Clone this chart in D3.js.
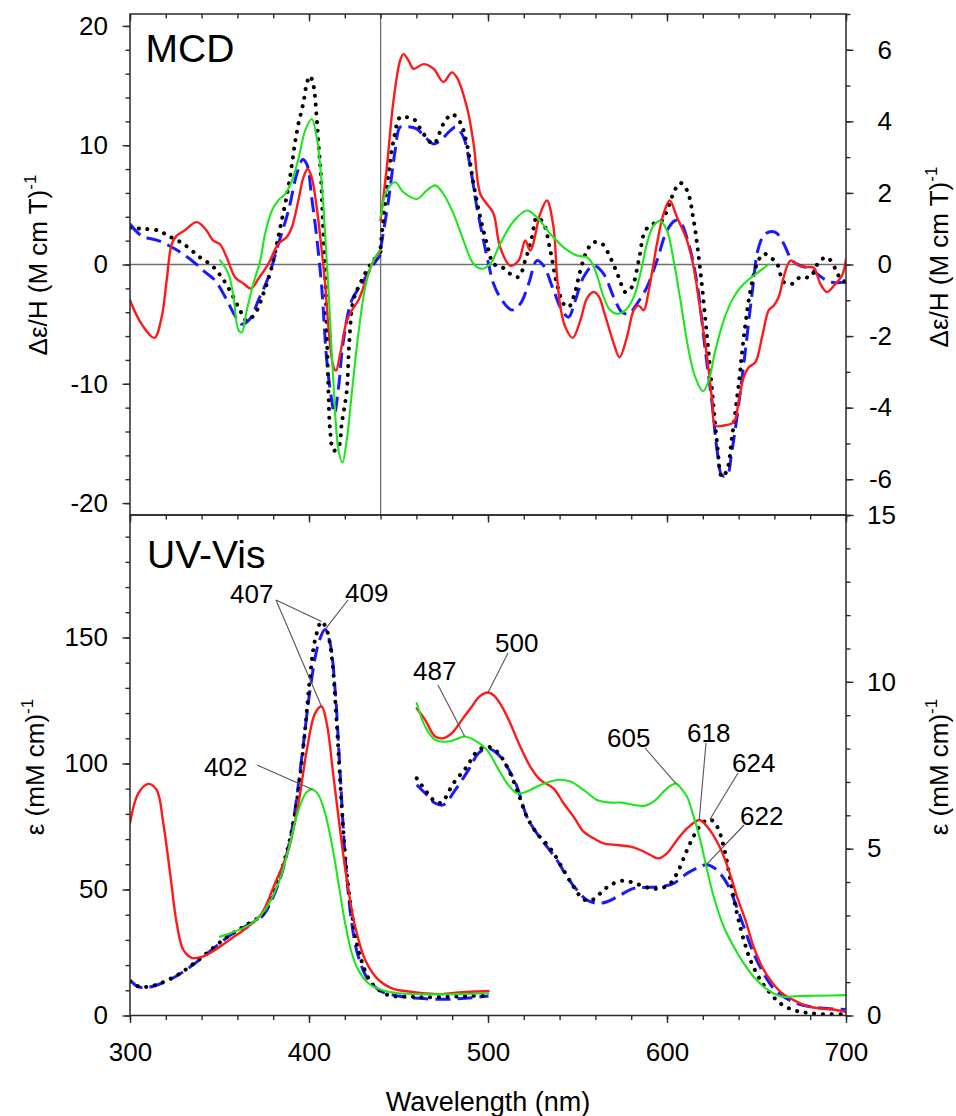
<!DOCTYPE html>
<html>
<head>
<meta charset="utf-8">
<script src="https://cdn.jsdelivr.net/npm/d3@7"></script>
<style>
  body { margin: 0; background: #fff; }
  svg { display: block; font-family: "Liberation Sans", Arial, Helvetica, sans-serif; }
</style>
</head>
<body>
<svg id="chart" width="956" height="1116"></svg>
<script>
// ---------- MCD, 300–440 nm (left axis, Δε/H) ----------
const mcdLeftRed = [[300,-3.0],[306.5,-5.0],[313.6,-6.15],[317.7,-4.4],[320.5,-1.3],[323.3,1.7],[326,2.4],[330,2.8],[337.3,3.55],[342,3.0],[346.6,2.0],[350.3,1.7],[354,0.6],[358.7,-1.06],[363.4,-1.6],[367.6,-2.0],[371.7,-1.2],[377.3,0.05],[382.9,1.73],[387.6,2.3],[390.4,3.1],[394.1,5.4],[396.9,7.3],[399.3,8.0],[401.5,7.3],[404.3,4.8],[407.1,1.2],[409,-1.6],[411.2,-5.8],[413.7,-8.6],[415.1,-8.9],[417.4,-7.5],[421.1,-4.7],[423.9,-3.85],[427.6,-3.0],[431.4,-1.5],[436,0.3],[440,1.2]];
const mcdLeftBlue = [[300,3.4],[306.5,2.4],[315.8,2.0],[325.2,1.3],[334.5,0.34],[342,-0.64],[347.5,-1.34],[353.1,-2.7],[358.7,-4.3],[362.4,-5.0],[367.1,-4.55],[371.7,-3.0],[377.3,-1.06],[382.9,1.73],[388.5,4.5],[393.2,7.6],[396.5,8.8],[398.8,8.4],[401.5,5.6],[404.3,2.3],[407.1,-1.9],[409.9,-8.0],[412.7,-11.4],[414.2,-12.5],[416.5,-10.3],[419.2,-6.4],[423.9,-3.0],[429.5,-1.6],[435.1,-0.22],[440,0.8]];
const mcdLeftBlack = [[300,3.07],[306.5,3.0],[315.8,2.85],[321.4,2.4],[329.8,1.73],[339.1,0.6],[345.7,-0.08],[351.2,-1.06],[356.8,-2.46],[361.5,-3.85],[365.2,-4.7],[369.9,-4.1],[374.5,-2.46],[379.2,-0.2],[383.5,2.8],[388.5,6.5],[392.2,10.2],[394.1,11.8],[396.9,13.6],[398.8,15.2],[400.6,15.8],[402.5,15.0],[404.3,12.3],[405.3,10.1],[406.6,7.6],[407.5,4.5],[408.5,1.0],[409.5,-3.0],[410.9,-10.8],[411.8,-13.9],[413.7,-15.6],[416.5,-15.3],[418.3,-13.3],[421.1,-10.6],[422.5,-6.5],[424.8,-3.0],[428.6,-1.6],[432.3,-0.5],[436,0.34],[440,1.1]];
const mcdLeftGreen = [[350.3,0.34],[355,-0.78],[357.8,-2.7],[360.6,-5.5],[362.4,-5.7],[365.2,-3.86],[368.9,-1.6],[372.7,0.3],[375.5,2.6],[379.2,4.5],[382.9,5.4],[386.6,5.9],[390.4,7.0],[394.1,8.85],[397.8,11.2],[401.5,12.2],[404.3,10.7],[407.1,6.8],[409,2.6],[411.2,-3.0],[413.7,-10],[416.5,-15.6],[418.7,-16.6],[421.1,-14.7],[423.9,-10.8],[427.6,-5.8],[431.4,-1.9],[435.1,0.05],[440,1.3]];

// ---------- MCD, 440–700 nm (right axis, Δε/H) ----------
const mcdRightRed = [[440,1.23],[443.5,2.72],[447.2,4.58],[450.9,5.7],[452.8,5.88],[455.6,5.7],[458.4,5.47],[464,5.6],[469.6,5.47],[475.1,5.1],[479.8,5.37],[482.6,5.23],[488.2,4.4],[491.9,3.4],[495.7,1.97],[499.4,1.69],[503.1,1.42],[506.8,0.48],[512.4,-0.03],[517.1,0.11],[520.8,0.67],[523.6,0.39],[529.2,1.42],[532.9,1.79],[536.6,1.04],[538.5,-0.3],[540.5,-1.2],[543.2,-1.75],[547.3,-2.05],[551.6,-1.56],[555.3,-0.95],[559,-0.77],[562,-0.9],[564.6,-1.28],[570.2,-2.2],[573.5,-2.59],[577.6,-2.03],[581.4,-1.28],[584.2,-1.15],[587,-1.28],[589.8,-0.73],[594.4,0.58],[598.1,1.42],[601.5,1.79],[605.6,1.32],[611.2,0.67],[614.9,-0.07],[618.6,-1.28],[622.4,-2.59],[625.2,-3.8],[627,-4.5],[631.7,-4.5],[637.3,-4.4],[640.1,-3.8],[642.9,-3.15],[645.7,-2.87],[649.4,-2.73],[653.1,-2.03],[656.8,-1.28],[659.6,-1.15],[662.4,-0.91],[665.2,-0.35],[669,0.11],[673.6,-0.03],[678.3,-0.07],[682,-0.09],[685.7,-0.54],[689.4,-0.77],[694.1,-0.54],[697.8,-0.31],[700,0.15]];
const mcdRightBlue = [[440,0.44],[444.4,1.79],[448.1,3.18],[450.9,3.84],[454.6,3.85],[460.2,3.79],[464.9,3.56],[469.6,3.37],[473.3,3.46],[478.9,3.74],[482,3.84],[486.3,3.56],[490.1,2.72],[493.8,1.6],[497.5,0.67],[500.3,0.02],[503.1,-0.54],[507.8,-1.0],[513.4,-1.27],[518,-1.1],[522.7,-0.54],[527.3,0.11],[531,-0.03],[536.7,-0.73],[541.3,-1.28],[545,-1.47],[548.8,-1.0],[553.4,-0.35],[559,-0.03],[564.6,-0.26],[570.2,-0.91],[574.8,-1.33],[578.6,-1.38],[583.2,-1.1],[588.8,-0.63],[594.4,0.11],[600,0.95],[604.7,1.23],[607.5,1.18],[612.1,0.58],[616.8,-0.54],[621.4,-2.4],[625.2,-3.89],[628,-5.2],[630.7,-5.89],[633.5,-5.89],[636.3,-5.2],[640.1,-3.89],[643.8,-2.4],[647.5,-0.82],[651.2,0.48],[655,0.86],[660.6,0.9],[665.2,0.58],[669.9,0.11],[674.5,-0.03],[680.1,-0.12],[683.8,-0.26],[689.4,-0.45],[694.1,-0.51],[700,-0.49]];
const mcdRightBlack = [[440,0.48],[443.5,2.16],[447.2,3.46],[450.9,4.12],[453.7,4.12],[458.4,4.07],[464,3.65],[469.6,3.37],[475.1,3.93],[479.8,4.2],[484.5,3.97],[488.2,3.37],[491.9,2.25],[495.7,1.32],[499.4,0.58],[503.1,0.02],[507.8,-0.07],[512.4,-0.26],[517.1,-0.35],[520.8,0.11],[524.5,0.76],[527.3,1.32],[531.1,1.14],[534.8,0.39],[538.5,-0.54],[542.2,-1.1],[545,-1.19],[547.8,-0.91],[551.6,-0.17],[555.3,0.39],[559,0.62],[563.7,0.58],[568.3,0.2],[573,-0.35],[576.7,-0.77],[580.4,-0.63],[584.2,0.11],[587.9,0.95],[592.5,1.14],[597.2,1.23],[600,1.51],[604.7,2.11],[607.5,2.28],[611.2,2.07],[614.9,1.23],[618.6,-0.17],[622.4,-2.03],[625.2,-3.52],[628,-5.0],[630.7,-5.94],[633.5,-5.75],[636.3,-4.82],[640.1,-3.33],[642.9,-2.03],[646.6,-0.73],[650.3,0.02],[654,0.3],[657.8,0.2],[661.5,0.02],[665.2,-0.49],[669.9,-0.54],[674.5,-0.35],[680.1,-0.35],[684.8,0.07],[689.4,0.2],[694.1,-0.12],[696.9,-0.4],[700,-0.49]];
const mcdRightGreen = [[440,1.32],[443.5,2.07],[448.1,2.3],[452.8,2.02],[460.2,1.83],[465.8,2.07],[470.5,2.21],[475.1,1.97],[480.7,1.42],[486.3,0.67],[491.9,0.02],[496.6,-0.12],[501.3,0.02],[506.8,0.58],[514.3,1.21],[521.7,1.51],[527.3,1.32],[534.8,0.86],[542.2,0.48],[549.7,0.25],[555.3,0.2],[558,0.05],[560.9,-0.3],[564.6,-0.91],[568.3,-1.28],[572.1,-1.38],[576.7,-1.28],[581.4,-0.91],[585.1,-0.26],[588.8,0.58],[592.5,1.09],[596.3,1.21],[600,0.95],[603.7,0.11],[607.5,-1.0],[612.1,-2.4],[615.8,-3.15],[620.1,-3.54],[623.3,-3.24],[627,-2.4],[631.7,-1.56],[637.3,-0.91],[642.9,-0.54],[648.4,-0.31],[656.8,0.0]];

// ---------- UV-Vis, 300–500 nm (left axis, ε) ----------
const uvLeftRed = [[300,76.3],[304.7,88.2],[310.2,91.9],[314.9,89.5],[318.6,76.3],[322.4,56.4],[326.1,36.6],[329.8,26],[334.5,22.9],[340.1,23.3],[347.5,26],[356.8,30.6],[366.1,35.3],[373.6,40.5],[381,52.4],[388.5,65.7],[394.1,84.2],[398.8,105.4],[403.4,119.9],[407,122.6],[409.9,115.9],[413.7,94.8],[418.3,68.3],[422,49.8],[425.8,35.3],[431.4,22],[438.8,14.1],[446.3,10.8],[455.6,9.5],[464.9,8.8],[474.2,8.5],[483.5,9.1],[492.8,9.5],[500.3,9.7]];
const uvLeftBlue = [[300,14.1],[304.7,11.4],[310.2,11.2],[317.7,12.8],[327,16.1],[336.3,20.7],[345.6,26],[355,31.3],[364.3,35.3],[373.6,39.2],[379.2,45.8],[384.8,56.4],[390.4,73.6],[396,102.7],[400.6,129.2],[405.3,147.7],[409,153.2],[411.8,147.7],[414.6,129.2],[417.4,96.1],[420.2,63],[423.9,36.6],[427.6,23.3],[433.2,14.1],[440.7,9.5],[450,7.7],[461.2,6.8],[474.2,6.4],[487.3,6.8],[500.3,7.7]];
const uvLeftBlack = [[300,13.4],[304.7,11.6],[310.2,11.4],[317.7,13],[327,16.3],[336.3,21],[345.6,26.3],[355,31.6],[364.3,35.6],[373.6,40],[379.2,47],[384.8,58],[390,72],[394.1,89.5],[397.8,113.3],[400.6,134.5],[403.4,149.1],[407,156.3],[409.9,153],[412.7,142.4],[415.5,115.9],[418.3,82.9],[421.1,56.4],[424.8,36.6],[428.6,23.3],[435.1,12.8],[444.4,8.1],[455.6,7.5],[464.9,7.2],[480,7.5],[500,8.0]];
const uvLeftGreen = [[350.3,31.3],[358.7,33.3],[368,36.6],[375.5,41.9],[382.9,52.4],[388.5,65.7],[394.1,81.5],[398.8,88.8],[402,89.7],[405.3,87.5],[409,80.2],[412.7,68.3],[416.5,52.4],[420.2,36.6],[423.9,24.7],[427.6,18],[433.2,12.8],[440.7,10.1],[450,8.8],[464.9,8.4],[474.2,8.4],[483.5,8.5],[500.3,8.8]];

// ---------- UV-Vis, 460–700 nm (right axis, ε) ----------
const uvRightRed = [[460.2,9.2],[464.9,8.86],[470.5,8.36],[475.1,8.31],[479.8,8.46],[485.4,8.86],[491,9.26],[495,9.55],[500,9.68],[503.5,9.58],[507.8,9.26],[512.4,8.76],[518,8.06],[523.6,7.46],[529.2,7.06],[536.6,6.81],[542.2,6.36],[547.8,5.96],[553.4,5.51],[559,5.31],[564.6,5.16],[572.1,5.11],[579.5,5.06],[585.1,4.96],[590.7,4.81],[595.3,4.71],[600,4.86],[605.6,5.26],[611.2,5.61],[618,5.86],[620.8,5.76],[625.2,5.46],[629.8,5.01],[634.5,4.36],[639.1,3.56],[643.8,2.86],[648.4,2.06],[653.1,1.46],[657.8,1.06],[663.4,0.71],[670.8,0.46],[678.3,0.28],[685.7,0.21],[693.2,0.18],[699.7,0.11]];
const uvRightBlue = [[460.2,6.91],[464.9,6.66],[470.5,6.36],[475,6.31],[481.7,6.76],[489.1,7.36],[494.7,7.86],[499.4,8.01],[505,7.86],[510.6,7.46],[516.2,6.86],[521.7,5.96],[527.3,5.46],[532.9,5.06],[538.5,4.66],[544.1,4.16],[549.7,3.76],[555.3,3.46],[560.9,3.36],[566.5,3.41],[573.9,3.61],[581.4,3.81],[588.8,3.84],[596.3,3.86],[603.7,3.96],[611.2,4.26],[618,4.45],[622,4.52],[627,4.4],[633.5,3.96],[638.2,3.36],[642.9,2.66],[648.4,1.86],[654,1.26],[659.6,0.81],[665.2,0.56],[672.7,0.36],[680.1,0.26],[689.4,0.21],[699.7,0.18]];
const uvRightBlack = [[460.2,7.11],[464.9,6.76],[470.5,6.41],[474,6.38],[480.7,6.96],[488.2,7.46],[493.8,7.91],[499.4,8.06],[505,7.91],[510.6,7.46],[516.2,6.76],[521.7,5.96],[527.3,5.46],[534.8,5.01],[542.2,4.36],[547.8,3.86],[553.4,3.48],[558.1,3.46],[562.7,3.66],[568.3,3.91],[575.8,4.04],[583.2,3.94],[590.7,3.81],[596.3,3.81],[601.9,3.96],[606.5,4.36],[611.2,4.96],[615.8,5.46],[619.6,5.76],[624,5.88],[628,5.66],[631.7,5.06],[635.4,4.06],[639.1,3.06],[642.9,2.26],[646.6,1.66],[652.2,1.06],[657.8,0.66],[663.4,0.36],[670.8,0.16],[678.3,0.08],[687.6,0.04],[700,0.04]];
const uvRightGreen = [[460.2,9.36],[464.9,8.66],[470.5,8.26],[478,8.21],[482,8.28],[487,8.36],[493.8,8.21],[499.4,7.96],[505,7.46],[510.6,6.96],[516.2,6.66],[521.7,6.71],[529.2,6.91],[538.5,7.06],[546,7.01],[553.4,6.76],[560.9,6.46],[568.3,6.38],[574.8,6.38],[581.4,6.31],[587.9,6.29],[592.5,6.41],[598.1,6.71],[601,6.85],[605,6.95],[608,6.8],[611.2,6.56],[614.9,5.96],[618.6,5.26],[622.4,4.36],[626.1,3.56],[631.7,2.66],[637.3,2.06],[642.9,1.56],[648.4,1.16],[654,0.86],[659.6,0.66],[665.2,0.56],[672.7,0.58],[682,0.59],[691.3,0.6],[700,0.61]];

// ---------- tick values ----------
const xMajorTicks = [300, 400, 500, 600, 700];
const xMinorTicks = d3.range(300, 701, 20);
const mcdLeftMajor = [-20, -10, 0, 10, 20];
const mcdLeftMinor = d3.range(-20, 21, 2);
const mcdRightMajor = [-6, -4, -2, 0, 2, 4, 6];
const mcdRightMinor = d3.range(-7, 8, 1);
const uvLeftMajor = [0, 50, 100, 150];
const uvLeftMinor = d3.range(0, 191, 10);
const uvRightMajor = [0, 5, 10, 15];
const uvRightMinor = d3.range(0, 16, 1);

// ---------- peak labels (wavelength in nm) ----------
const peakLabels = ["407", "409", "402", "487", "500", "605", "618", "624", "622"];
const peakMarks = [
  [["uvLeft", "black", 407], ["uvLeft", "red", 407]],
  [["uvLeft", "blue", 409]],
  [["uvLeft", "green", 402]],
  [["uvRight", "green", 487]],
  [["uvRight", "red", 500]],
  [["uvRight", "green", 605]],
  [["uvRight", "red", 618]],
  [["uvRight", "black", 624]],
  [["uvRight", "blue", 622]]
];

// ---------- layout ----------
const svg = d3.select("#chart");
const L = 130, R = 846, T = 14, M = 515, B = 1015.5;
const FONT = '"Liberation Sans", Arial, Helvetica, sans-serif';

const x = d3.scaleLinear().domain([300, 700]).range([L, R]);
const yMcdL = d3.scaleLinear().domain([-21, 21]).range([M, T]);
const yMcdR = d3.scaleLinear().domain([-7, 7]).range([M, T]);
const yUvL = d3.scaleLinear().domain([0, 198.6]).range([B, M]);
const yUvR = d3.scaleLinear().domain([0, 15]).range([B, M]);

const panels = {
  mcdLeft:  { y: yMcdL, clip: "clipTop", series: { blue: mcdLeftBlue, black: mcdLeftBlack, red: mcdLeftRed, green: mcdLeftGreen } },
  mcdRight: { y: yMcdR, clip: "clipTop", series: { blue: mcdRightBlue, black: mcdRightBlack, red: mcdRightRed, green: mcdRightGreen } },
  uvLeft:   { y: yUvL, clip: "clipBot", series: { blue: uvLeftBlue, black: uvLeftBlack, red: uvLeftRed, green: uvLeftGreen } },
  uvRight:  { y: yUvR, clip: "clipBot", series: { blue: uvRightBlue, black: uvRightBlack, red: uvRightRed, green: uvRightGreen } }
};

const lineStyle = {
  blue:  { stroke: "#1a1aff", width: 3, dash: "15 7", cap: "butt" },
  black: { stroke: "#000000", width: 4, dash: "0.1 8.6", cap: "round" },
  red:   { stroke: "#ff1a1a", width: 2.4, dash: null, cap: "round" },
  green: { stroke: "#1ee61e", width: 2.1, dash: null, cap: "round" }
};
const drawOrder = ["blue", "black", "red", "green"];

const defs = svg.append("defs");
defs.append("clipPath").attr("id", "clipTop").append("rect")
  .attr("x", L).attr("y", T).attr("width", R - L).attr("height", M - T);
defs.append("clipPath").attr("id", "clipBot").append("rect")
  .attr("x", L).attr("y", M).attr("width", R - L).attr("height", B - M);

// reference lines in the MCD panel
svg.append("line").attr("x1", L).attr("x2", R).attr("y1", yMcdL(0)).attr("y2", yMcdL(0))
  .attr("stroke", "#6e6e6e").attr("stroke-width", 1.3);
svg.append("line").attr("x1", x(440)).attr("x2", x(440)).attr("y1", T).attr("y2", M)
  .attr("stroke", "#6e6e6e").attr("stroke-width", 1.3);

// spectra
Object.values(panels).forEach(p => {
  const line = d3.line()
    .x(d => x(d[0]))
    .y(d => p.y(d[1]))
    .curve(d3.curveCatmullRom.alpha(0.5));
  const g = svg.append("g").attr("clip-path", `url(#${p.clip})`);
  drawOrder.forEach(k => {
    const s = lineStyle[k];
    g.append("path")
      .datum(p.series[k])
      .attr("d", line)
      .attr("fill", "none")
      .attr("stroke", s.stroke)
      .attr("stroke-width", s.width)
      .attr("stroke-linecap", s.cap)
      .attr("stroke-linejoin", "round")
      .attr("stroke-dasharray", s.dash);
  });
});

// frames
[[T, M], [M, B]].forEach(([y0, y1]) => {
  svg.append("rect").attr("x", L).attr("y", y0).attr("width", R - L).attr("height", y1 - y0)
    .attr("fill", "none").attr("stroke", "#2a2a2a").attr("stroke-width", 1.5);
});

// axes helper
function axis(gen, scale, values, size, pad, fmt, tx, ty) {
  const g = svg.append("g").attr("transform", `translate(${tx},${ty})`)
    .call(gen(scale).tickValues(values).tickSize(size).tickPadding(pad).tickFormat(fmt));
  g.select(".domain").remove();
  g.attr("font-family", FONT).attr("font-size", 26);
  g.selectAll("line").attr("stroke", "#2a2a2a").attr("stroke-width", 1.4);
  g.selectAll("text").attr("fill", "#000");
  return g;
}
const none = () => "";
const fmt = d => String(d);

// x ticks: top of each panel (inward), bottom of plot (outward, labelled)
[T, M].forEach(yy => {
  axis(d3.axisBottom, x, xMinorTicks, 4.5, 0, none, 0, yy);
  axis(d3.axisBottom, x, xMajorTicks, 7.5, 0, none, 0, yy);
});
axis(d3.axisBottom, x, xMinorTicks, 4.5, 0, none, 0, B);
axis(d3.axisBottom, x, xMajorTicks, 7.5, 20, fmt, 0, B);

// MCD y axes
axis(d3.axisLeft, yMcdL, mcdLeftMinor, 4.5, 0, none, L, 0);
axis(d3.axisLeft, yMcdL, mcdLeftMajor, 7.5, 14.5, fmt, L, 0);
axis(d3.axisRight, yMcdR, mcdRightMinor, 4.5, 0, none, R, 0);
axis(d3.axisRight, yMcdR, mcdRightMajor, 7.5, 14, fmt, R, 0)
  .selectAll("text").attr("text-anchor", "end").attr("x", 46);

// UV-Vis y axes
axis(d3.axisLeft, yUvL, uvLeftMinor, 4.5, 0, none, L, 0);
axis(d3.axisLeft, yUvL, uvLeftMajor, 7.5, 14.5, fmt, L, 0);
axis(d3.axisRight, yUvR, uvRightMinor, 4.5, 0, none, R, 0);
axis(d3.axisRight, yUvR, uvRightMajor, 7.5, 13.5, fmt, R, 0);

// panel titles
svg.append("text").attr("x", 145.5).attr("y", 62).attr("font-size", 39).attr("font-family", FONT).text("MCD");
svg.append("text").attr("x", 147).attr("y", 568).attr("font-size", 39).attr("font-family", FONT).text("UV-Vis");

// axis titles
function yTitle(main, cx, cy) {
  const t = svg.append("text")
    .attr("transform", `translate(${cx},${cy}) rotate(-90)`)
    .attr("text-anchor", "middle")
    .attr("font-family", FONT).attr("font-size", 26);
  t.append("tspan").text(main);
  t.append("tspan").attr("font-size", 17).attr("dy", -11).text("-1");
}
yTitle("\u0394\u03b5/H (M cm T)", 47, 265);
yTitle("\u0394\u03b5/H (M cm T)", 948, 257);
yTitle("\u03b5 (mM cm)", 44, 767);
yTitle("\u03b5 (mM cm)", 948, 767);

svg.append("text").attr("x", (L + R) / 2).attr("y", 1111).attr("text-anchor", "middle")
  .attr("font-family", FONT).attr("font-size", 27).text("Wavelength (nm)");

// peak annotations
const labelLayout = {
  "407": { x: 230, y: 603, lx: 276, ly: 600 },
  "409": { x: 345, y: 602, lx: 348, ly: 600 },
  "402": { x: 204, y: 776, lx: 257, ly: 765 },
  "487": { x: 413, y: 680, lx: 438, ly: 685 },
  "500": { x: 495, y: 652, lx: 508, ly: 653 },
  "605": { x: 607, y: 747, lx: 645, ly: 748 },
  "618": { x: 687, y: 742, lx: 706, ly: 743 },
  "624": { x: 732, y: 772, lx: 738, ly: 773 },
  "622": { x: 740, y: 825, lx: 744, ly: 825 }
};
function valueAt(arr, nm) {
  for (let i = 1; i < arr.length; i++) {
    if (arr[i][0] >= nm) {
      const [x0, y0] = arr[i - 1], [x1, y1] = arr[i];
      return y0 + (y1 - y0) * (nm - x0) / (x1 - x0);
    }
  }
  return arr[arr.length - 1][1];
}
peakLabels.forEach((lab, i) => {
  const lay = labelLayout[lab];
  peakMarks[i].forEach(([pk, sk, nm]) => {
    const p = panels[pk];
    svg.append("line")
      .attr("x1", lay.lx).attr("y1", lay.ly)
      .attr("x2", x(nm)).attr("y2", p.y(valueAt(p.series[sk], nm)))
      .attr("stroke", "#555").attr("stroke-width", 1.1);
  });
  svg.append("text").attr("x", lay.x).attr("y", lay.y)
    .attr("font-family", FONT).attr("font-size", 26).text(lab);
});
</script>
</body>
</html>
